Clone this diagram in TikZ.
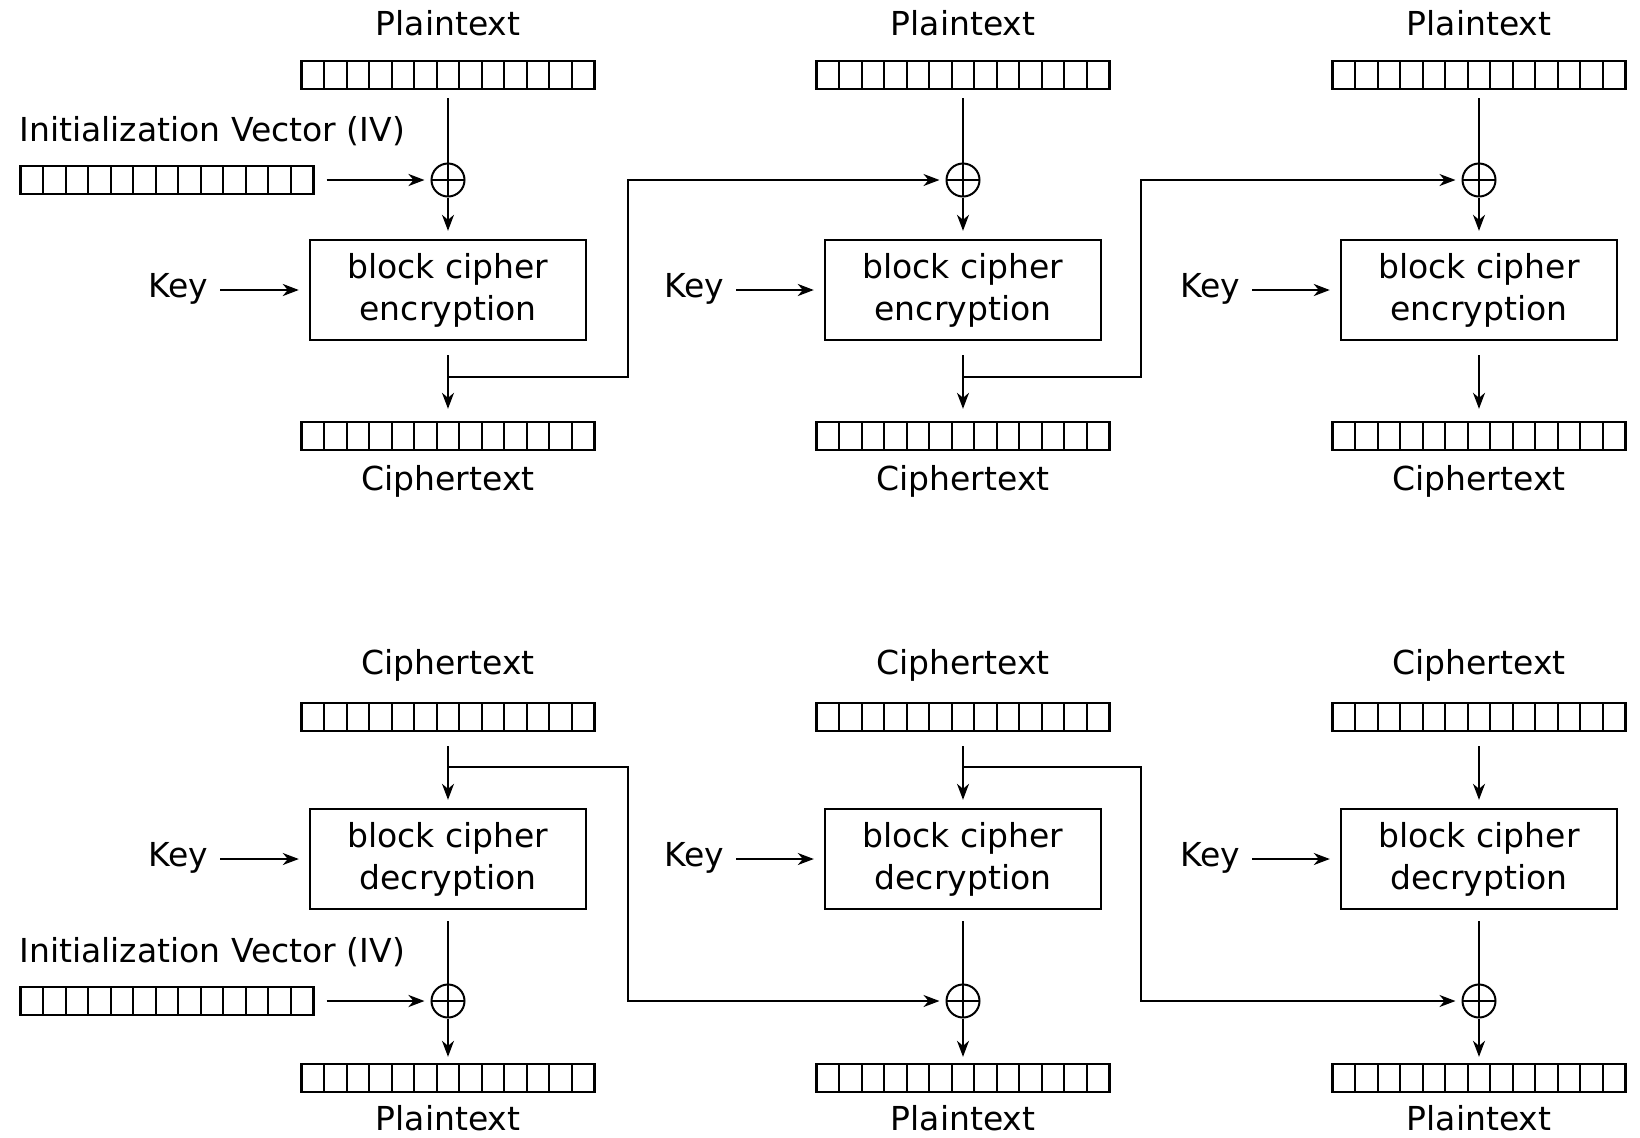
\documentclass[tikz,border=0pt]{standalone}
\usepackage{fontspec}
\setmainfont{DejaVu Sans}
\usetikzlibrary{arrows.meta,calc}
\begin{document}
\begin{tikzpicture}[x=0.5pt,y=-0.5pt,
  font=\fontsize{16.5}{21}\selectfont,
  bar/.style={draw, line width=1.2pt, minimum width=146.5pt, minimum height=14pt, inner sep=0pt,
    path picture={\foreach \i in {1,...,12}{\draw[line width=1pt] ($(path picture bounding box.south west)!\i/13!(path picture bounding box.south east)$) -- ($(path picture bounding box.north west)!\i/13!(path picture bounding box.north east)$);}}},
  xor/.style={circle, draw, line width=1pt, minimum size=16.5pt, inner sep=0pt,
    path picture={\draw[line width=1pt] (path picture bounding box.north) -- (path picture bounding box.south) (path picture bounding box.west) -- (path picture bounding box.east);}},
  cbox/.style={draw, line width=1.2pt, minimum width=138pt, minimum height=50pt, align=center, inner sep=0pt},
  lbl/.style={inner sep=0pt},
  ln/.style={line width=0.8pt},
  arr/.style={ln, -{Stealth[length=8pt,width=6pt,inset=2.5pt]}},
  keyarr/.style={line width=1.4pt, -{Stealth[length=8pt,width=6pt,inset=2.5pt]}},
  keyarrthin/.style={arr, line width=0.8pt}
]
\useasboundingbox[fill=white] (0,0) rectangle (1640,1137);

% ---------------- Encryption ----------------
\node[lbl] (pt1) at (448,23) {Plaintext};
\node[lbl] (pt2) at (963,23) {Plaintext};
\node[lbl] (pt3) at (1479,23) {Plaintext};
\node[bar] (pb1) at (448,75) {};
\node[bar] (pb2) at (963,75) {};
\node[bar] (pb3) at (1479,75) {};
\node[lbl, anchor=west] (iv1) at (19,131) {Initialization Vector (IV)};
\node[bar] (ivb1) at (167,180) {};
\node[xor] (x1) at (448,180) {};
\node[xor] (x2) at (963,180) {};
\node[xor] (x3) at (1479,180) {};
\node[cbox] (b1) at (448,290) {block cipher\\encryption};
\node[cbox] (b2) at (963,290) {block cipher\\encryption};
\node[cbox] (b3) at (1479,290) {block cipher\\encryption};
\node[lbl] (k1) at (178,289) {Key};
\node[lbl] (k2) at (694,289) {Key};
\node[lbl] (k3) at (1210,289) {Key};
\node[bar] (cb1) at (448,436) {};
\node[bar] (cb2) at (963,436) {};
\node[bar] (cb3) at (1479,436) {};
\node[lbl] (ct1) at (448,481) {Ciphertext};
\node[lbl] (ct2) at (963,481) {Ciphertext};
\node[lbl] (ct3) at (1479,481) {Ciphertext};
\coordinate (j1) at (448,377);
\coordinate (j2) at (963,377);

\foreach \c in {1,2,3}{
  \draw[ln, shorten <=4pt] (pb\c.south) -- (x\c.north);
  \draw[arr, shorten >=4pt] (x\c.south) -- (b\c.north);
  \draw[keyarr, shorten <=6pt, shorten >=5pt] (k\c.east |- b\c.west) -- (b\c.west);
  \draw[arr, shorten <=7pt, shorten >=6pt] (b\c.south) -- (cb\c.north);
}
\draw[keyarr, shorten <=6pt, shorten >=3pt] (ivb1.east) -- (x1.west);
\draw[arr, shorten >=3pt] (j1) -- ++(180,0) |- (x2.west);
\draw[arr, shorten >=3pt] (j2) -- ++(178,0) |- (x3.west);

% ---------------- Decryption ----------------
\node[lbl] (dc1) at (448,665) {Ciphertext};
\node[lbl] (dc2) at (963,665) {Ciphertext};
\node[lbl] (dc3) at (1479,665) {Ciphertext};
\node[bar] (dcb1) at (448,717) {};
\node[bar] (dcb2) at (963,717) {};
\node[bar] (dcb3) at (1479,717) {};
\node[cbox] (db1) at (448,859) {block cipher\\decryption};
\node[cbox] (db2) at (963,859) {block cipher\\decryption};
\node[cbox] (db3) at (1479,859) {block cipher\\decryption};
\node[lbl] (dk1) at (178,858) {Key};
\node[lbl] (dk2) at (694,858) {Key};
\node[lbl] (dk3) at (1210,858) {Key};
\node[lbl, anchor=west] (iv2) at (19,952) {Initialization Vector (IV)};
\node[bar] (ivb2) at (167,1001) {};
\node[xor] (dx1) at (448,1001) {};
\node[xor] (dx2) at (963,1001) {};
\node[xor] (dx3) at (1479,1001) {};
\node[bar] (dpb1) at (448,1078) {};
\node[bar] (dpb2) at (963,1078) {};
\node[bar] (dpb3) at (1479,1078) {};
\node[lbl] (dp1) at (448,1118) {Plaintext};
\node[lbl] (dp2) at (963,1118) {Plaintext};
\node[lbl] (dp3) at (1479,1118) {Plaintext};
\coordinate (dj1) at (448,767);
\coordinate (dj2) at (963,767);

\foreach \c in {1,2,3}{
  \draw[arr, shorten <=7pt, shorten >=4pt] (dcb\c.south) -- (db\c.north);
  \draw[keyarrthin, shorten <=6pt, shorten >=5pt] (dk\c.east |- db\c.west) -- (db\c.west);
  \draw[ln, shorten <=5.5pt] (db\c.south) -- (dx\c.north);
  \draw[arr, shorten >=3pt] (dx\c.south) -- (dpb\c.north);
}
\draw[keyarr, shorten <=6pt, shorten >=3pt] (ivb2.east) -- (dx1.west);
\draw[arr, shorten >=3pt] (dj1) -- ++(180,0) |- (dx2.west);
\draw[arr, shorten >=3pt] (dj2) -- ++(178,0) |- (dx3.west);
\end{tikzpicture}
\end{document}
